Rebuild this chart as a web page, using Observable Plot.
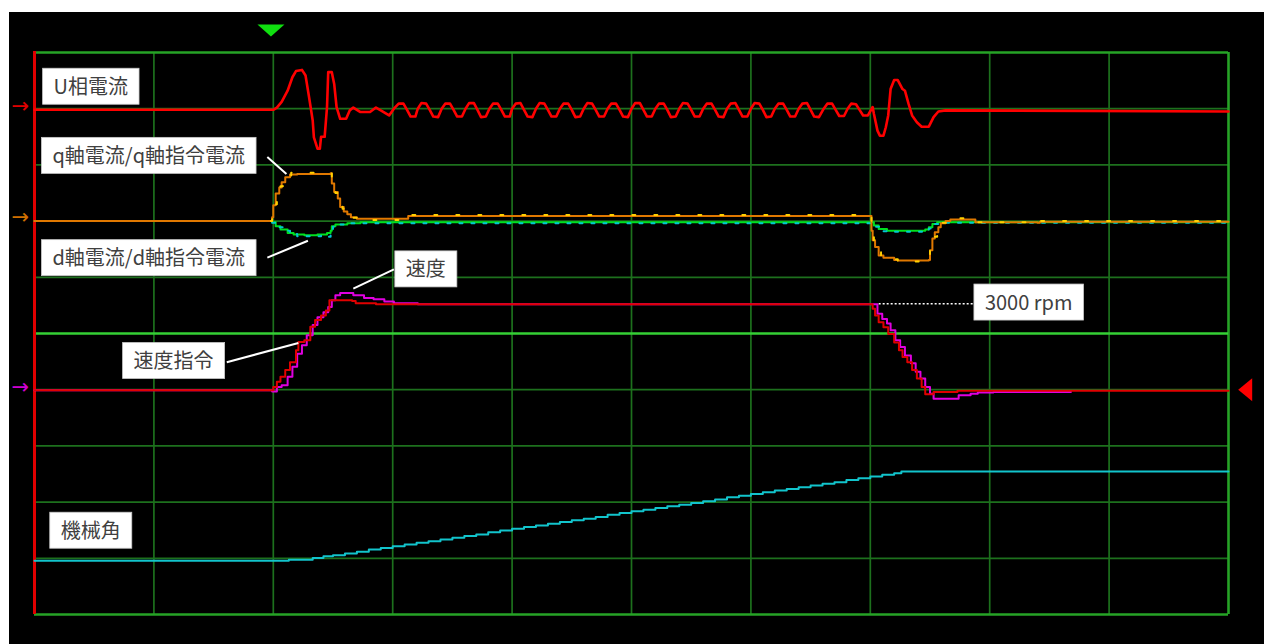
<!DOCTYPE html>
<html><head><meta charset="utf-8">
<script src="https://cdn.jsdelivr.net/npm/d3@7"></script>
<script src="https://cdn.jsdelivr.net/npm/@observablehq/plot@0.6"></script>
<style>
html,body{margin:0;padding:0;background:#fff;overflow:hidden}
#chart{position:absolute;left:9px;top:12px}
#chart svg{display:block}
</style></head><body><div id="chart"></div>
<script>
// ---- grid (divisions) ----
const gridT = [0,1,2,3,4,5,6,7,8,9,10];
const gridV = [0,1,2,3,4,5,6,7,8,9,10];
const levelV = 5;          // trigger level line
const triggerT = 1.98;     // trigger position marker

// ---- channel baselines (div) ----
const baseU = 8.98, baseDQ = 7.0, baseSpeed = 3.99, baseAngle = 0.955;

// ---- U相電流 [time div, div] ----
const uPhase = [
[0,0],[2.00,0],[2.03,0.04],[2.07,0.14],[2.12,0.34],[2.16,0.58],[2.19,0.69],[2.24,0.71],[2.27,0.61],[2.30,0.22],
[2.33,-0.19],[2.34,-0.49],[2.37,-0.69],[2.39,-0.69],[2.40,-0.48],[2.43,-0.48],[2.45,0.05],[2.46,0.67],[2.49,0.67],[2.51,0.46],
[2.53,0.05],[2.56,-0.16],[2.61,-0.16],[2.64,-0.01],[2.67,0.04],[2.73,-0.04],[2.81,-0.04],[2.86,0.04],[2.90,-0.01],[2.97,-0.10],
[3.01,0.02],[3.05,0.11],[3.09,0.11],[3.12,0.00],[3.15,-0.12],[3.19,-0.12],
[3.21,0.02],[3.24,0.12],[3.28,0.11],[3.31,0.00],[3.34,-0.12],[3.38,-0.13],
[3.41,0.02],[3.44,0.11],[3.48,0.11],[3.51,0.00],[3.54,-0.12],[3.58,-0.12],
[3.61,0.02],[3.64,0.12],[3.68,0.12],[3.71,0.00],[3.74,-0.13],[3.78,-0.12],
[3.81,0.02],[3.84,0.11],[3.88,0.11],[3.91,0.00],[3.94,-0.12],[3.98,-0.12],
[4.00,0.02],[4.03,0.11],[4.07,0.12],[4.10,0.00],[4.13,-0.12],[4.17,-0.13],
[4.20,0.02],[4.23,0.12],[4.27,0.11],[4.30,0.00],[4.33,-0.12],[4.37,-0.12],
[4.40,0.02],[4.43,0.11],[4.47,0.11],[4.50,0.00],[4.53,-0.13],[4.57,-0.12],
[4.60,0.02],[4.63,0.12],[4.67,0.11],[4.70,0.00],[4.73,-0.12],[4.77,-0.12],
[4.80,0.02],[4.83,0.11],[4.87,0.11],[4.90,0.00],[4.93,-0.12],[4.97,-0.13],
[5.00,0.02],[5.03,0.12],[5.07,0.12],[5.10,0.00],[5.13,-0.12],[5.17,-0.12],
[5.20,0.02],[5.23,0.11],[5.27,0.11],[5.30,0.00],[5.33,-0.13],[5.37,-0.12],
[5.40,0.02],[5.43,0.12],[5.47,0.11],[5.50,0.00],[5.53,-0.12],[5.57,-0.12],
[5.60,0.02],[5.63,0.11],[5.67,0.11],[5.70,0.00],[5.73,-0.12],[5.77,-0.13],
[5.80,0.02],[5.83,0.11],[5.87,0.12],[5.90,0.00],[5.93,-0.12],[5.97,-0.12],
[6.00,0.02],[6.03,0.12],[6.07,0.11],[6.10,0.00],[6.13,-0.13],[6.17,-0.12],
[6.20,0.02],[6.23,0.11],[6.27,0.11],[6.30,0.00],[6.33,-0.12],[6.37,-0.12],
[6.40,0.02],[6.43,0.11],[6.47,0.12],[6.50,0.00],[6.53,-0.12],[6.57,-0.13],
[6.61,0.02],[6.64,0.11],[6.68,0.11],[6.71,0.00],[6.74,-0.11],[6.78,-0.11],
[6.81,0.02],[6.84,0.11],[6.88,0.10],[6.91,0.00],[6.94,-0.10],[6.98,-0.10],
[7.02,0.05],[7.03,-0.07],[7.06,-0.37],[7.08,-0.46],[7.11,-0.46],[7.13,-0.31],[7.15,-0.10],[7.17,0.37],[7.20,0.53],[7.23,0.53],
[7.27,0.37],[7.29,0.34],[7.32,0.11],[7.35,-0.10],[7.39,-0.22],[7.43,-0.30],[7.49,-0.30],[7.53,-0.13],[7.57,-0.03],[7.63,-0.01],[10,-0.03]
];

// ---- q軸電流 / q軸指令電流 ----
const qCurrent = [
[0,0],[1.98,0],[1.99,0.07],[2.00,0.28],[2.02,0.49],[2.05,0.60],[2.07,0.69],[2.10,0.78],[2.14,0.83],[2.20,0.84],[2.45,0.84],
[2.48,0.85],[2.49,0.67],[2.51,0.52],[2.54,0.40],[2.56,0.25],[2.59,0.17],[2.62,0.12],[2.65,0.07],[2.70,0.04],[3.12,0.04],
[3.13,0.09],[7.00,0.09],[7.01,-0.17],[7.02,-0.34],[7.04,-0.46],[7.07,-0.61],[7.11,-0.65],[7.20,-0.69],[7.23,-0.70],[7.49,-0.69],
[7.50,-0.52],[7.52,-0.31],[7.54,-0.20],[7.57,-0.11],[7.59,-0.04],[7.63,0],[7.67,0.03],[7.84,0.03],[7.88,-0.02],[8.40,-0.03],
[8.42,-0.01],[10,-0.01]
];
const qCommand = [
[1.98,0],[1.99,0.10],[2.01,0.30],[2.03,0.50],[2.06,0.62],[2.08,0.70],[2.11,0.80],[2.15,0.86],[2.45,0.86],[2.48,0.86],
[2.49,0.66],[2.52,0.50],[2.55,0.37],[2.58,0.22],[2.61,0.14],[2.66,0.06],[2.72,0.02],[3.12,0.03],[3.13,0.11],[7.00,0.11],
[7.01,-0.20],[7.03,-0.38],[7.05,-0.50],[7.09,-0.63],[7.14,-0.68],[7.23,-0.72],[7.48,-0.71],[7.50,-0.48],[7.53,-0.28],[7.56,-0.14],
[7.60,-0.03],[7.66,0.05],[7.85,0.05],[7.88,-0.02],[8.40,-0.04],[8.42,0.00],[10,0.00]
];

// ---- d軸電流 / d軸指令電流 ----
const dCurrent = [
[0,0],[1.99,-0.02],[2.02,-0.09],[2.06,-0.15],[2.12,-0.21],[2.17,-0.24],[2.26,-0.25],[2.37,-0.24],[2.45,-0.21],[2.48,-0.17],
[2.49,-0.09],[2.52,-0.06],[2.62,-0.04],[2.73,-0.02],[7.00,-0.02],[7.03,-0.08],[7.07,-0.14],[7.14,-0.17],[7.46,-0.15],[7.49,-0.11],
[7.52,-0.05],[7.56,-0.02],[10,-0.01]
];
const dCommand = [
[1.99,-0.03],[2.03,-0.11],[2.08,-0.17],[2.14,-0.23],[2.20,-0.27],[2.30,-0.27],[2.40,-0.26],[2.45,-0.28],[2.48,-0.20],
[2.50,-0.10],[2.55,-0.06],[2.65,-0.04],[7.00,-0.04],[7.04,-0.10],[7.10,-0.18],[7.20,-0.19],[7.45,-0.18],[7.49,-0.13],[7.53,-0.05],
[7.60,-0.03],[10,-0.03]
];

// ---- 速度指令 / 速度 ----
const speedCommand = [
[0,0],[1.99,0],[2.00,0.06],[2.03,0.15],[2.06,0.24],[2.10,0.36],[2.14,0.50],[2.19,0.71],[2.21,0.86],[2.26,0.89],
[2.31,1.13],[2.35,1.25],[2.40,1.33],[2.44,1.42],[2.47,1.60],[2.66,1.59],[2.69,1.55],[2.83,1.55],[2.86,1.53],[6.99,1.53],
[7.02,1.45],[7.04,1.33],[7.07,1.21],[7.11,1.12],[7.15,1.00],[7.20,0.85],[7.24,0.71],[7.27,0.59],[7.31,0.50],[7.35,0.36],
[7.39,0.21],[7.43,0.06],[7.46,-0.07],[7.50,-0.07],[7.53,-0.03],[7.71,-0.03],[7.73,-0.01],[10,-0.01]
];
const speed = [
[0,0],[1.99,-0.02],[2.03,0.06],[2.07,0.09],[2.12,0.24],[2.16,0.42],[2.20,0.65],[2.24,0.80],[2.28,0.98],[2.33,1.16],
[2.37,1.30],[2.42,1.39],[2.46,1.48],[2.49,1.60],[2.52,1.69],[2.56,1.73],[2.63,1.73],[2.67,1.69],[2.76,1.64],[2.84,1.62],
[2.93,1.58],[3.01,1.55],[3.21,1.53],[6.99,1.53],[7.06,1.36],[7.10,1.27],[7.14,1.19],[7.17,1.07],[7.21,0.89],[7.25,0.77],
[7.29,0.62],[7.34,0.48],[7.38,0.33],[7.42,0.21],[7.46,0.06],[7.50,-0.06],[7.53,-0.15],[7.71,-0.15],[7.74,-0.09],[7.84,-0.06],
[7.90,-0.04],[8.01,-0.04],[8.03,-0.03],[8.68,-0.03]
];

// ---- 機械角 ----
const angle = [
[0,0],[2.13,0.02],[2.33,0.05],[2.42,0.08],[2.50,0.10],[2.60,0.13],[2.70,0.16],[2.80,0.20],[2.90,0.23],[3.00,0.26],
[3.10,0.29],[3.20,0.32],[3.30,0.35],[3.40,0.38],[3.50,0.41],[3.60,0.44],[3.70,0.47],[3.80,0.51],[3.90,0.54],[4.00,0.57],
[4.10,0.60],[4.20,0.63],[4.30,0.66],[4.40,0.69],[4.50,0.72],[4.60,0.75],[4.70,0.78],[4.80,0.82],[4.90,0.85],[5.00,0.88],
[5.10,0.91],[5.20,0.94],[5.30,0.97],[5.40,1.00],[5.50,1.03],[5.60,1.06],[5.70,1.09],[5.80,1.13],[5.90,1.16],[6.00,1.19],
[6.10,1.22],[6.20,1.25],[6.30,1.28],[6.40,1.31],[6.50,1.34],[6.60,1.37],[6.70,1.40],[6.80,1.44],[6.90,1.47],[7.00,1.50],
[7.10,1.53],[7.20,1.56],[7.26,1.59],[10,1.59]
];

// ---- annotations ----
const labels = [
  {t:0.16, v:9.38, text:"U相電流"},
  {t:0.15, v:8.15, text:"q軸電流/q軸指令電流"},
  {t:0.15, v:6.33, text:"d軸電流/d軸指令電流"},
  {t:3.11, v:6.13, text:"速度"},
  {t:0.83, v:4.50, text:"速度指令"},
  {t:7.96, v:5.54, text:"3000 rpm"},
  {t:0.22, v:1.48, text:"機械角"}
];
const leaders = [
  {t1:1.95, v1:8.14, t2:2.11, v2:7.84},
  {t1:1.95, v1:6.35, t2:2.29, v2:6.65},
  {t1:3.01, v1:6.14, t2:2.67, v2:5.80},
  {t1:1.61, v1:4.49, t2:2.21, v2:4.83}
];
const rpmLeader = [{t1:7.07, v1:5.53, t2:7.86, v2:5.53}];
const channelArrows = [
  {t:-0.12, v:9.04, c:"#e00000"},
  {t:-0.12, v:7.06, c:"#d07000"},
  {t:-0.12, v:4.05, c:"#d000d0"}
];
const triggerMark = [{t:triggerT, v:10.39}];
const levelMark = [{t:10.14, v:4.0}];

const pts = (arr, base) => arr.map(([t, v]) => ({t, v: base + v}));

const downTri = {draw(ctx){ ctx.moveTo(-13.5,-6); ctx.lineTo(13.5,-6); ctx.lineTo(0,6); ctx.closePath(); }};
const leftTri = {draw(ctx){ ctx.moveTo(-7,0); ctx.lineTo(7,-11.5); ctx.lineTo(7,11.5); ctx.closePath(); }};

const plot = Plot.plot({
  width: 1255, height: 632, margin: 0,
  style: {background: "#000", overflow: "visible"},
  x: {domain: [0, 10], range: [25, 1219], axis: null},
  y: {domain: [0, 10], range: [602, 40], axis: null},
  marks: [
    Plot.ruleX(gridT.filter(d => d > 0 && d < 10), {x: d => d, y1: 0, y2: 10, stroke: "#1d701d", strokeWidth: 1.7}),
    Plot.ruleY(gridV.filter(d => d > 0 && d < 10 && d !== levelV), {y: d => d, x1: 0, x2: 10, stroke: "#1d701d", strokeWidth: 1.7}),
    Plot.ruleX([10], {x: d => d, y1: 0, y2: 10, stroke: "#26a326", strokeWidth: 2.6}),
    Plot.ruleY([0, 10], {y: d => d, x1: 0, x2: 10, stroke: "#26a326", strokeWidth: 2.6}),
    Plot.ruleY([levelV], {y: d => d, x1: 0, x2: 10, stroke: "#35d035", strokeWidth: 2.6}),
    Plot.ruleX([0], {x: d => d, y1: 0, y2: 10.02, stroke: "#e00000", strokeWidth: 3}),

    Plot.line(pts(angle, baseAngle), {x: "t", y: "v", stroke: "#12c4cc", strokeWidth: 2, curve: "step-after"}),

    Plot.line(pts(speed, baseSpeed), {x: "t", y: "v", stroke: "#e000e0", strokeWidth: 2, curve: "step-after"}),
    Plot.line(pts(speedCommand, baseSpeed), {x: "t", y: "v", stroke: "#e00000", strokeWidth: 2, curve: "step-after"}),

    Plot.line(pts(dCurrent, baseDQ), {x: "t", y: "v", stroke: "#00e020", strokeWidth: 2, curve: "step-after"}),
    Plot.line(pts(dCommand, baseDQ), {x: "t", y: "v", stroke: "#00c8d0", strokeWidth: 2, strokeDasharray: "3 9", curve: "step-after"}),
    Plot.line(pts(qCurrent, baseDQ), {x: "t", y: "v", stroke: "#e07800", strokeWidth: 2, curve: "step-after"}),
    Plot.line(pts(qCommand, baseDQ), {x: "t", y: "v", stroke: "#ffd000", strokeWidth: 2, strokeDasharray: "3 19", curve: "step-after"}),

    Plot.line(pts(uPhase, baseU), {x: "t", y: "v", stroke: "#ff0000", strokeWidth: 2.6, curve: "linear"}),

    Plot.text(channelArrows, {x: "t", y: "v", text: () => "→", fill: "c", fontSize: 21, fontFamily: "DejaVu Sans"}),
    Plot.dot(triggerMark, {x: "t", y: "v", symbol: downTri, fill: "#10e010", stroke: "none", r: 8}),
    Plot.dot(levelMark, {x: "t", y: "v", symbol: leftTri, fill: "#ff0000", stroke: "none", r: 8}),

    Plot.link(leaders, {x1: "t1", y1: "v1", x2: "t2", y2: "v2", stroke: "#ffffff", strokeWidth: 2}),
    Plot.link(rpmLeader, {x1: "t1", y1: "v1", x2: "t2", y2: "v2", stroke: "#ffffff", strokeWidth: 1.6, strokeDasharray: "2 2"}),
    Plot.text(labels, {x: "t", y: "v", text: "text", textAnchor: "start", fontSize: 20, fill: "#404040", fontFamily: "Noto Sans CJK JP"})
  ]
});
document.getElementById("chart").append(plot);

// white boxes behind the annotation texts
const labelSet = new Set(labels.map(d => d.text));
plot.querySelectorAll("text").forEach(el => {
  if (!labelSet.has(el.textContent)) return;
  const b = el.getBBox();
  const rect = document.createElementNS("http://www.w3.org/2000/svg", "rect");
  const cy = b.y + b.height / 2 + 1;
  rect.setAttribute("x", b.x - 11);
  rect.setAttribute("y", cy - 18);
  rect.setAttribute("width", b.width + 22);
  rect.setAttribute("height", 36);
  rect.setAttribute("fill", "#ffffff");
  rect.setAttribute("stroke", "#c8c8c8");
  rect.setAttribute("stroke-width", "0.8");
  if (el.getAttribute("transform")) rect.setAttribute("transform", el.getAttribute("transform"));
  el.parentNode.insertBefore(rect, el);
});
</script></body></html>
